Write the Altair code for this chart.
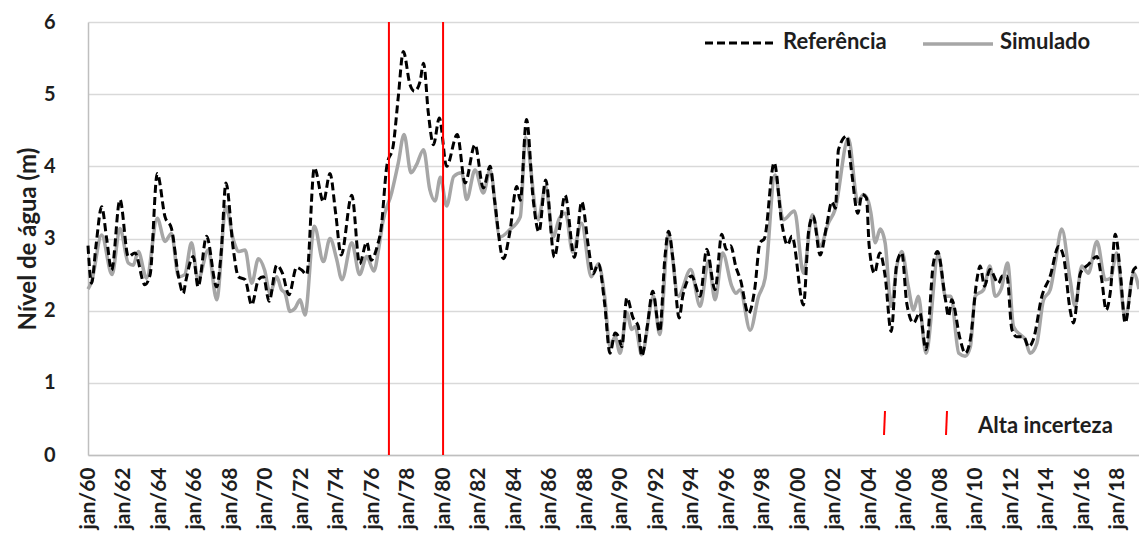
import altair as alt
import pandas as pd

# Referência (black dashed) — decimal year, water level (m)
ref_t = [1960.0, 1960.2, 1960.45, 1960.77, 1961.05, 1961.33, 1961.8, 1962.27, 1962.65, 1963.2,
         1963.5, 1963.9, 1964.34, 1964.7, 1965.1, 1965.37, 1965.5, 1965.93, 1966.2, 1966.68,
         1967.25, 1967.5, 1967.77, 1968.19, 1968.47, 1968.85, 1969.22, 1969.6, 1969.88, 1970.2,
         1970.63, 1970.95, 1971.32, 1971.75, 1972.05, 1972.32, 1972.75, 1973.26, 1973.63, 1973.95,
         1974.26, 1974.86, 1975.3, 1975.7, 1975.95, 1976.3, 1976.5, 1976.83, 1977.2, 1977.48,
         1977.76, 1978.14, 1978.39, 1978.7, 1978.9, 1979.17, 1979.46, 1979.79, 1980.2, 1980.8,
         1981.24, 1981.8, 1982.27, 1982.65, 1982.9, 1983.4, 1983.75, 1984.15, 1984.35, 1984.7,
         1985.08, 1985.4, 1985.78, 1986.27, 1986.55, 1986.87, 1987.4, 1987.81, 1988.19, 1988.45,
         1988.75, 1989.1, 1989.4, 1989.69, 1989.88, 1990.07, 1990.35, 1990.7, 1991.0, 1991.19,
         1991.5, 1991.81, 1992.2, 1992.5, 1992.7, 1992.95, 1993.3, 1993.5, 1994.0, 1994.48,
         1994.85, 1995.32, 1995.7, 1995.95, 1996.2, 1996.5, 1996.75, 1997.2, 1997.55, 1997.85,
         1998.1, 1998.65, 1999.08, 1999.4, 1999.65, 2000.3, 2000.6, 2000.85, 2001.24, 2001.6,
         2001.9, 2002.1, 2002.27, 2002.74, 2003.0, 2003.36, 2003.6, 2003.85, 2004.0, 2004.3,
         2004.6, 2004.9, 2005.24, 2005.56, 2005.84, 2006.12, 2006.5, 2006.85, 2007.2, 2007.62,
         2007.85, 2008.3, 2008.47, 2008.65, 2009.13, 2009.41, 2009.7, 2010.07, 2010.25, 2010.5,
         2010.8, 2011.28, 2011.5, 2011.76, 2012.04, 2012.3, 2012.7, 2012.98, 2013.25, 2013.73,
         2014.2, 2014.67, 2014.95, 2015.32, 2015.51, 2015.9, 2016.35, 2016.83, 2017.1, 2017.35,
         2017.6, 2017.86, 2018.15, 2018.42, 2018.9, 2019.2]
ref_v = [2.90, 2.38, 2.90, 3.44, 3.00, 2.56, 3.54, 2.75, 2.80, 2.36,
         2.50, 3.90, 3.30, 3.14, 2.47, 2.24, 2.40, 2.75, 2.33, 3.03,
         2.33, 2.80, 3.77, 2.84, 2.47, 2.43, 2.08, 2.43, 2.47, 2.13,
         2.63, 2.52, 2.22, 2.60, 2.56, 2.50, 3.98, 3.51, 3.90, 3.35,
         2.77, 3.60, 2.65, 2.95, 2.70, 2.90, 3.12, 4.00, 4.30, 4.97,
         5.59, 5.13, 5.04, 5.17, 5.43, 4.74, 4.30, 4.67, 4.00, 4.44,
         3.77, 4.30, 3.70, 4.00, 3.53, 2.72, 3.07, 3.72, 3.53, 4.65,
         3.53, 3.09, 3.81, 2.74, 3.12, 3.60, 2.74, 3.51, 2.88, 2.51,
         2.65, 2.10, 1.41, 1.69, 1.64, 1.50, 2.18, 1.90, 1.78, 1.37,
         1.78, 2.27, 1.71, 2.75, 3.10, 2.71, 1.90, 2.20, 2.48, 2.20,
         2.85, 2.29, 3.06, 2.85, 2.90, 2.60, 2.43, 1.96, 2.29, 2.94,
         3.00, 4.05, 3.21, 2.91, 3.03, 2.08, 3.12, 3.31, 2.77, 3.17,
         3.51, 3.42, 4.23, 4.42, 3.95, 3.35, 3.61, 3.56, 2.90, 2.52,
         2.80, 2.48, 1.71, 2.66, 2.80, 2.10, 1.83, 1.97, 1.46, 2.66,
         2.82, 2.15, 1.92, 2.15, 1.60, 1.41, 1.60, 2.43, 2.62, 2.34,
         2.57, 2.38, 2.48, 2.48, 1.74, 1.64, 1.64, 1.50, 1.60, 2.20,
         2.48, 2.89, 2.75, 2.01, 1.83, 2.52, 2.64, 2.75, 2.43, 2.01,
         2.29, 3.06, 2.52, 1.83, 2.57, 2.62]

# Simulado (grey solid)
sim_t = [1960.0, 1960.2, 1960.77, 1961.35, 1961.8, 1962.27, 1962.55, 1962.83, 1963.3, 1963.9,
         1964.34, 1964.7, 1965.1, 1965.45, 1965.83, 1966.2, 1966.77, 1967.25, 1967.77, 1968.19,
         1968.5, 1968.85, 1969.22, 1969.6, 1969.95, 1970.25, 1970.63, 1970.9, 1971.1, 1971.38,
         1971.65, 1971.95, 1972.22, 1972.75, 1973.26, 1973.63, 1974.0, 1974.3, 1974.86, 1975.3,
         1975.7, 1976.1, 1976.4, 1976.6, 1977.1, 1977.48, 1977.8, 1978.2, 1978.5, 1978.9,
         1979.25, 1979.55, 1979.85, 1980.2, 1980.6, 1981.05, 1981.33, 1981.8, 1982.27, 1982.65,
         1983.2, 1983.75, 1984.35, 1984.65, 1985.35, 1985.78, 1986.2, 1986.55, 1986.9, 1987.3,
         1987.8, 1988.35, 1988.75, 1989.1, 1989.4, 1989.69, 1989.97, 1990.35, 1990.63, 1990.82,
         1991.19, 1991.85, 1992.2, 1992.7, 1993.25, 1993.95, 1994.48, 1994.95, 1995.32, 1995.75,
         1996.26, 1996.5, 1996.73, 1997.3, 1997.76, 1998.14, 1998.7, 1999.16, 1999.79, 2000.3,
         2000.8, 2001.24, 2001.7, 2002.08, 2002.83, 2003.36, 2003.68, 2003.96, 2004.1, 2004.35,
         2004.62, 2004.9, 2005.24, 2005.56, 2005.84, 2006.2, 2006.5, 2006.77, 2007.2, 2007.9,
         2008.3, 2008.6, 2009.05, 2009.41, 2009.7, 2009.97, 2010.45, 2010.8, 2011.1, 2011.45,
         2011.8, 2012.13, 2012.5, 2012.79, 2013.07, 2013.45, 2013.82, 2014.2, 2014.48, 2014.85,
         2015.32, 2015.6, 2015.98, 2016.35, 2016.83, 2017.3, 2017.6, 2017.94, 2018.42, 2018.9,
         2019.2]
sim_v = [2.30, 2.40, 3.05, 2.50, 3.14, 2.66, 2.63, 2.82, 2.45, 3.28,
         2.96, 3.07, 2.47, 2.50, 2.94, 2.43, 2.84, 2.15, 3.44, 2.98,
         2.82, 2.84, 2.38, 2.72, 2.56, 2.24, 2.47, 2.29, 2.24, 1.99,
         2.03, 2.15, 1.94, 3.17, 2.68, 3.00, 2.72, 2.43, 2.94, 2.50,
         2.75, 2.55, 2.90, 3.22, 3.63, 4.05, 4.44, 3.91, 4.02, 4.23,
         3.68, 3.52, 3.85, 3.45, 3.86, 3.91, 3.54, 3.95, 3.63, 3.95,
         3.02, 3.12, 3.30, 4.40, 3.26, 3.72, 3.02, 3.28, 3.35, 2.81,
         3.21, 2.47, 2.65, 2.20, 1.50, 1.64, 1.41, 1.97, 1.74, 1.78,
         1.39, 2.20, 1.67, 3.06, 2.20, 2.57, 2.06, 2.69, 2.15, 2.80,
         2.34, 2.24, 2.29, 1.73, 2.19, 2.45, 3.88, 3.26, 3.38, 2.52,
         3.33, 2.89, 3.21, 3.40, 4.39, 3.51, 3.61, 3.51, 3.35, 2.94,
         3.13, 2.94, 2.06, 2.62, 2.82, 2.34, 2.01, 2.20, 1.41, 2.78,
         2.20, 2.20, 1.41, 1.37, 1.50, 2.20, 2.29, 2.62, 2.20, 2.31,
         2.66, 1.78, 1.67, 1.60, 1.41, 1.55, 2.15, 2.29, 2.66, 3.13,
         2.43, 2.06, 2.62, 2.52, 2.96, 2.43, 2.45, 2.80, 1.90, 2.52,
         2.30]

# high-uncertainty period limits (decimal year)
uncert_t = [1976.95, 1980.0]

x_ticks = list(range(1960, 2019, 2))
y_ticks = [0, 1, 2, 3, 4, 5, 6]
legend_labels = ["Referência", "Simulado", "Alta incerteza"]

FONT = "Lato"
TXT = "#1e1e1e"
W, H = 1051, 433
DASH = [8, 4]

df_ref = pd.DataFrame({"t": ref_t, "v": ref_v})
df_sim = pd.DataFrame({"t": sim_t, "v": sim_v})
df_unc = pd.DataFrame({"t": uncert_t})
one = pd.DataFrame({"k": [0]})

xaxis = alt.Axis(values=x_ticks, labelExpr="'jan/' + slice(toString(datum.value), 2, 4)",
                 labelAngle=270, labelOverlap=False, grid=False, ticks=False, title=None,
                 labelPadding=12, labelFontSize=21, labelFont=FONT, labelFontWeight="bold",
                 labelColor=TXT, domainColor="#bfbfbf", domainWidth=1.5)
yaxis = alt.Axis(values=y_ticks, format="d", grid=True, gridColor="#d9d9d9", gridWidth=1.5,
                 ticks=False, domainColor="#bfbfbf", domainWidth=1.5, labelOverlap=False,
                 labelPadding=33, labelFontSize=20, labelFont=FONT, labelFontWeight="bold",
                 labelColor=TXT, title="Nível de água (m)", titleFont=FONT,
                 titleFontSize=24, titleFontWeight="bold", titleColor=TXT, titlePadding=3)
xscale = alt.Scale(domain=[1960, 2019.2], nice=False, zero=False)
yscale = alt.Scale(domain=[0, 6], nice=False)

def xenc():
    return alt.X("t:Q", scale=xscale, axis=xaxis)

def yenc():
    return alt.Y("v:Q", scale=yscale, axis=yaxis)

sim_line = alt.Chart(df_sim).mark_line(color="#a6a6a6", strokeWidth=3.5, interpolate="monotone").encode(
    x=xenc(), y=yenc())
ref_line = alt.Chart(df_ref).mark_line(color="#000000", strokeWidth=3, strokeDash=DASH,
                                       interpolate="monotone").encode(x=xenc(), y=yenc())
rules = alt.Chart(df_unc).mark_rule(color="#ff0000", strokeWidth=2).encode(x=xenc())

# legend (manual, top-right and bottom-right like the original)
def label(txt, x, y):
    return alt.Chart(one).mark_text(align="left", baseline="middle", font=FONT, fontSize=22,
                                    fontWeight="bold", color=TXT).encode(
        x=alt.value(x), y=alt.value(y), text=alt.value(txt))

leg_ref_line = alt.Chart(one).mark_rule(color="#000000", strokeWidth=3, strokeDash=DASH).encode(
    x=alt.value(617), x2=alt.value(689), y=alt.value(21))
leg_sim_line = alt.Chart(one).mark_rule(color="#a6a6a6", strokeWidth=3.5).encode(
    x=alt.value(835), x2=alt.value(905), y=alt.value(22))
leg_unc1 = alt.Chart(one).mark_rule(color="#ff0000", strokeWidth=2).encode(
    x=alt.value(797), x2=alt.value(796), y=alt.value(389), y2=alt.value(413))
leg_unc2 = alt.Chart(one).mark_rule(color="#ff0000", strokeWidth=2).encode(
    x=alt.value(859), x2=alt.value(858), y=alt.value(389), y2=alt.value(413))

chart = alt.layer(sim_line, ref_line, rules, leg_ref_line, label(legend_labels[0], 695, 20),
                  leg_sim_line, label(legend_labels[1], 912, 20),
                  leg_unc1, leg_unc2, label(legend_labels[2], 890, 404)).properties(
    width=W, height=H,
    autosize=alt.AutoSizeParams(type="none"),
    padding={"left": 88, "top": 22, "right": 0, "bottom": 91},
    background="white",
).configure_view(stroke=None).configure_axisX(labelOverlap=False)

chart.save("out.html", embed_options={"renderer": "svg", "actions": False})
